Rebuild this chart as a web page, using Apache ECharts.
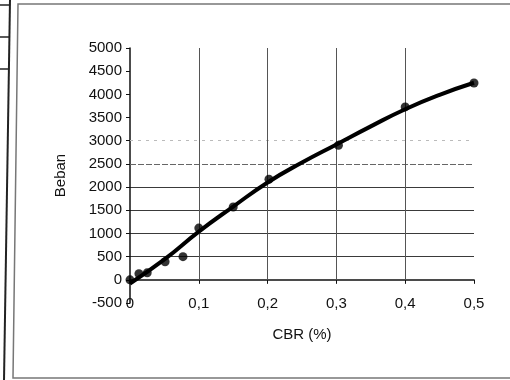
<!DOCTYPE html>
<html>
<head>
<meta charset="utf-8">
<script src="https://cdn.jsdelivr.net/npm/echarts@6/dist/echarts.min.js"></script>
<style>
  html, body { margin: 0; padding: 0; background: #fff; }
  #chart { width: 510px; height: 380px; }
</style>
</head>
<body>
<div id="chart"></div>
<script>
// Measured points: CBR (%) vs load (Beban)
const cbrValues = [0, 0.013, 0.025, 0.051, 0.077, 0.1, 0.15, 0.202, 0.303, 0.4, 0.5];
const bebanValues = [0, 130, 150, 390, 500, 1115, 1570, 2170, 2900, 3730, 4245];

// Fitted curve drawn through the measurements
const curveCbr = [0, 0.05, 0.1, 0.15, 0.2, 0.25, 0.3, 0.35, 0.4, 0.45, 0.5];
const curveBeban = [-80, 440, 1040, 1580, 2100, 2530, 2920, 3310, 3680, 3990, 4250];

// Axis ticks
const yTicks = [-500, 0, 500, 1000, 1500, 2000, 2500, 3000, 3500, 4000, 4500, 5000];
const xTicks = [0, 0.1, 0.2, 0.3, 0.4, 0.5];
// Vertical grid lines run from the zero line up to the top of the value range
const vGridX = [0.1, 0.2, 0.3, 0.4];

const points = cbrValues.map((x, i) => [x, bebanValues[i]]);
const curve = curveCbr.map((x, i) => [x, curveBeban[i]]);

const font = 'Arial, "Liberation Sans", sans-serif';

// Horizontal grid colours per tick: only the lower band is solid
const hGridColors = yTicks.map(v => (v >= 500 && v <= 2000) ? '#3a3a3a' : 'rgba(0,0,0,0)');

const gridLines = [
  { yAxis: 2500, lineStyle: { color: '#666', type: [6, 2], width: 1 } },
  { yAxis: 3000, lineStyle: { color: '#bbb', type: [3, 5], width: 1 } }
].concat(vGridX.map(x => [
  { coord: [x, 0], lineStyle: { color: '#555', type: 'solid', width: 1 } },
  { coord: [x, yTicks[yTicks.length - 1]] }
]));

const chart = echarts.init(document.getElementById('chart'), null, { renderer: 'canvas' });

chart.setOption({
  animation: false,
  backgroundColor: '#fff',
  grid: { left: 130, right: 36, top: 48, bottom: 77 },
  xAxis: {
    type: 'value',
    min: xTicks[0],
    max: xTicks[xTicks.length - 1],
    interval: 0.1,
    name: 'CBR (%)',
    nameLocation: 'middle',
    nameGap: 24,
    nameTextStyle: { fontFamily: font, fontSize: 15, color: '#111' },
    axisLine: { onZero: true, lineStyle: { color: '#111', width: 1.5 } },
    axisTick: { show: true, length: 4, lineStyle: { color: '#111' } },
    axisLabel: {
      margin: -7,
      fontFamily: font, fontSize: 15, color: '#111',
      formatter: v => v === 0 ? '0' : v.toFixed(1).replace('.', ',')
    },
    splitLine: { show: false }
  },
  yAxis: {
    type: 'value',
    min: yTicks[0],
    max: yTicks[yTicks.length - 1],
    interval: 500,
    name: 'Beban',
    nameLocation: 'middle',
    nameRotate: 90,
    nameGap: 62,
    nameTextStyle: { fontFamily: font, fontSize: 15, color: '#111' },
    axisLine: { show: true, onZero: false, lineStyle: { color: '#111', width: 1.5 } },
    axisTick: { show: true, length: 4, lineStyle: { color: '#111' } },
    axisLabel: { margin: 8, fontFamily: font, fontSize: 15, color: '#111', formatter: v => String(v) },
    splitLine: { show: true, showMinLine: true, showMaxLine: true, lineStyle: { color: hGridColors, width: 1 } }
  },
  series: [
    {
      name: 'curve',
      type: 'line',
      data: curve,
      smooth: true,
      symbol: 'none',
      lineStyle: { color: '#000', width: 4 },
      z: 3,
      markLine: {
        silent: true,
        symbol: 'none',
        label: { show: false },
        z: 1,
        data: gridLines
      }
    },
    {
      name: 'data',
      type: 'scatter',
      data: points,
      symbol: 'circle',
      symbolSize: 9,
      itemStyle: { color: '#000' },
      z: 4
    }
  ],
  graphic: [
    // frame around the chart
    { type: 'polyline', shape: { points: [[510, 4], [18, 4], [13, 378], [510, 378]] },
      style: { stroke: '#777', lineWidth: 1.5, fill: null } },
    // neighbouring table edge
    { type: 'line', shape: { x1: 10, y1: 0, x2: 4, y2: 380 }, style: { stroke: '#222', lineWidth: 2 } },
    { type: 'line', shape: { x1: 0, y1: 5, x2: 10, y2: 5 }, style: { stroke: '#222', lineWidth: 1.5 } },
    { type: 'line', shape: { x1: 0, y1: 37, x2: 10, y2: 37 }, style: { stroke: '#222', lineWidth: 1.5 } },
    { type: 'line', shape: { x1: 0, y1: 69, x2: 9, y2: 69 }, style: { stroke: '#222', lineWidth: 1.5 } }
  ]
});
</script>
</body>
</html>
